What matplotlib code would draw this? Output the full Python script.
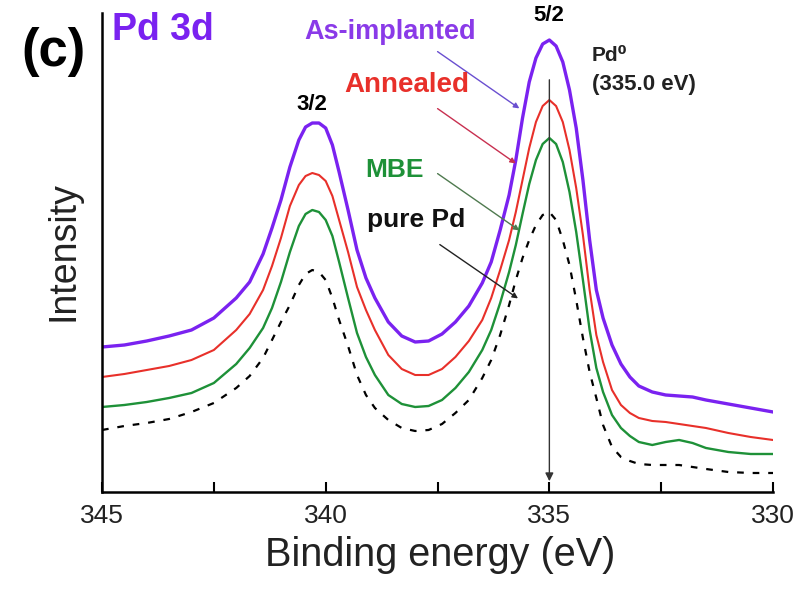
import matplotlib
matplotlib.use('Agg')

import matplotlib.pyplot as plt
from matplotlib.ticker import MultipleLocator

plt.rcParams['font.family'] = ['Liberation Sans', 'DejaVu Sans']

# Binding energy grid (eV) and XPS Pd 3d intensities (arb. units)
energy = [345.0, 344.5, 344.0, 343.5, 343.0, 342.5, 342.0, 341.7, 341.4, 341.2,
          341.0, 340.8, 340.6, 340.45, 340.3, 340.15, 340.0, 339.85, 339.7, 339.5,
          339.3, 339.1, 338.9, 338.6, 338.3, 338.0, 337.7, 337.4, 337.1, 336.8,
          336.5, 336.3, 336.1, 335.9, 335.75, 335.6, 335.45, 335.3, 335.15, 335.0,
          334.85, 334.7, 334.55, 334.4, 334.25, 334.1, 333.95, 333.8, 333.6, 333.4,
          333.2, 333.0, 332.7, 332.4, 332.1, 331.8, 331.5, 331.0, 330.5, 330.0]

as_implanted = [145, 147, 151, 156, 162, 174, 194, 210, 238, 264,
                292, 325, 352, 365, 369, 369, 364, 347, 320, 282,
                242, 214, 194, 170, 156, 150, 151, 158, 170, 186,
                209, 230, 262, 297, 332, 374, 410, 434, 448, 452,
                446, 430, 402, 364, 312, 252, 202, 174, 147, 128,
                115, 106, 100, 97, 96, 95, 92, 88, 84, 80]

annealed = [115, 118, 122, 126, 132, 142, 162, 178, 202, 226,
            254, 286, 307, 316, 319, 317, 311, 296, 272, 240,
            205, 182, 162, 137, 123, 117, 117, 123, 135, 151,
            172, 194, 222, 252, 280, 312, 344, 370, 386, 392,
            386, 370, 342, 304, 257, 202, 157, 130, 102, 87,
            79, 74, 71, 70, 68, 66, 64, 59, 55, 52]

mbe = [85, 87, 90, 94, 99, 109, 128, 144, 164, 184,
       210, 240, 266, 278, 282, 280, 272, 256, 230, 194,
       159, 135, 117, 97, 88, 85, 86, 92, 104, 120,
       142, 162, 189, 220, 247, 278, 308, 332, 348, 354,
       348, 330, 300, 260, 212, 162, 124, 100, 77, 64,
       56, 50, 47, 50, 52, 49, 44, 40, 38, 38]

pure_pd = [62, 66, 69, 73, 80, 89, 104, 116, 134, 152,
           170, 187, 207, 218, 222, 220, 212, 194, 172, 146,
           117, 97, 84, 72, 64, 61, 62, 68, 79, 92,
           114, 132, 157, 187, 212, 234, 252, 267, 277, 280,
           272, 252, 227, 192, 154, 120, 94, 67, 45, 35,
           31, 28, 27, 27, 27, 25, 23, 20, 19, 19]

x_ticks = [345, 340, 335, 330]

purple = '#7a22f0'
red = '#e8302a'
green = '#1e9138'

fig = plt.figure(figsize=(8.02, 5.89), dpi=100)
ax = fig.add_axes([0.1272, 0.1647, 0.8367, 0.8132])

ax.plot(energy, as_implanted, color=purple, lw=2.4)
ax.plot(energy, annealed, color=red, lw=1.5)
ax.plot(energy, mbe, color=green, lw=1.7)
ax.plot(energy, pure_pd, color='black', lw=1.6, linestyle=(0, (3, 4)))

ax.set_xlim(345, 330)
ax.set_ylim(0, 479)
ax.set_xticks(x_ticks)
ax.xaxis.set_minor_locator(MultipleLocator(2.5))
ax.set_yticks([])
ax.tick_params(axis='x', which='both', direction='in', length=7, width=1.5,
               labelsize=19, pad=9, labelcolor='#222222')
for side in ['top', 'right']:
    ax.spines[side].set_visible(False)
for side in ['left', 'bottom']:
    ax.spines[side].set_linewidth(1.8)

# Pd0 reference position
ax.annotate('', xy=(335.0, 8), xytext=(335.0, 415),
            arrowprops=dict(arrowstyle='-|>', color='#333333', lw=1.0, mutation_scale=12))

# pointers from labels to curves
pointers = [((337.55, 442), (335.62, 382), '#6a4fd0'),
            ((337.55, 385), (335.70, 327), '#c83050'),
            ((337.55, 320), (335.62, 260), '#4f7a4f'),
            ((337.50, 249), (335.65, 192), '#222222')]
for start, end, col in pointers:
    ax.annotate('', xy=end, xytext=start,
                arrowprops=dict(arrowstyle='-|>', color=col, lw=1.0, mutation_scale=8))

fig.text(0.0673, 0.9117, '(c)', fontsize=38, fontweight='bold', ha='center', va='center')
fig.text(0.1397, 0.949, 'Pd 3d', fontsize=27, fontweight='bold', color=purple,
         ha='left', va='center')
fig.text(0.4863, 0.9457, 'As-implanted', fontsize=19.5, fontweight='bold', color='#8a3ae8',
         ha='center', va='center')
fig.text(0.5075, 0.8557, 'Annealed', fontsize=20, fontweight='bold', color=red,
         ha='center', va='center')
fig.text(0.4913, 0.7114, 'MBE', fontsize=19, fontweight='bold', color=green,
         ha='center', va='center')
fig.text(0.5187, 0.627, 'pure Pd', fontsize=19, fontweight='bold', color='#111111',
         ha='center', va='center')
fig.text(0.389, 0.8234, '3/2', fontsize=16, fontweight='bold', ha='center', va='center')
fig.text(0.6845, 0.9745, '5/2', fontsize=16, fontweight='bold', ha='center', va='center')
fig.text(0.738, 0.9066, 'Pd\u2070', fontsize=15, fontweight='bold', color='#222222',
         ha='left', va='center')
fig.text(0.738, 0.8557, '(335.0 eV)', fontsize=16, fontweight='bold', color='#222222',
         ha='left', va='center')

fig.text(0.0798, 0.574, 'Intensity', fontsize=27, rotation=90, ha='center', va='center',
         color='#222222')
fig.text(0.5486, 0.0577, 'Binding energy (eV)', fontsize=28.5, ha='center', va='center',
         color='#222222')

fig.savefig('out.png', dpi=100)
